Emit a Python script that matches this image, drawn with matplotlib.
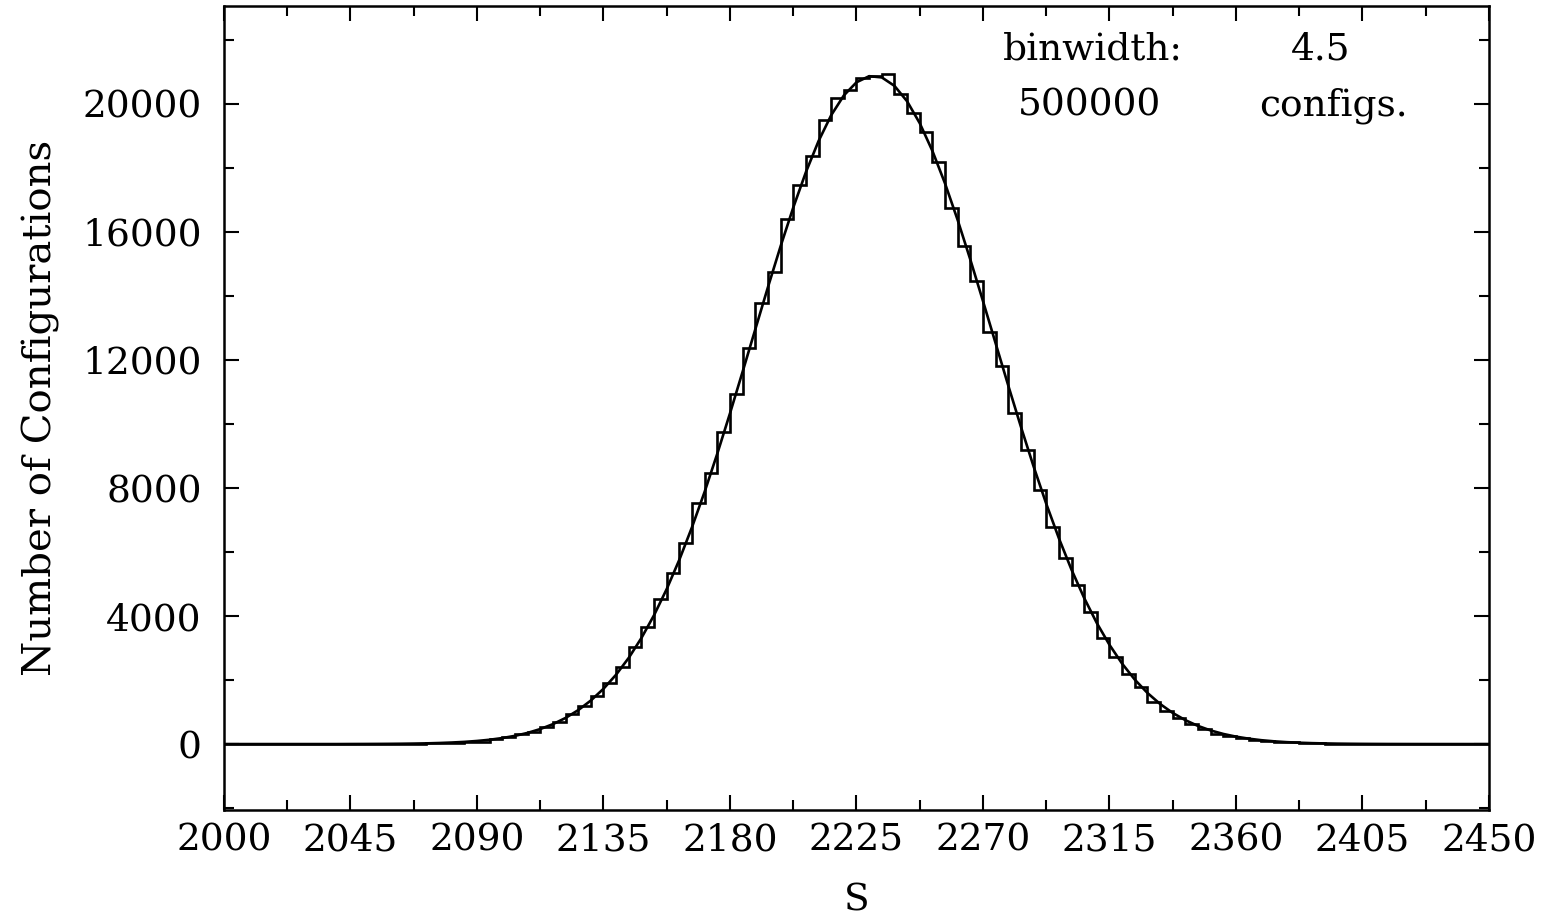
import matplotlib
matplotlib.use("Agg")
import matplotlib.pyplot as plt
import numpy as np

# histogram: 100 bins of width 4.5 starting at S = 2000
BIN_START = 2000
BIN_WIDTH = 4.5
counts = [
    0, 0, 0, 0, 0, 0, 0, 0, 0, 0,
    1, 2, 3, 5, 8, 12, 18, 27, 38, 50,
    80, 145, 230, 310, 385, 540, 700, 940, 1200, 1500,
    1895, 2395, 3020, 3645, 4520, 5333, 6290, 7540, 8480, 9760,
    10940, 12365, 13790, 14750, 16400, 17470, 18375, 19500, 20175, 20440,
    20800, 20885, 20930, 20300, 19730, 19135, 18200, 16740, 15560, 14480,
    12885, 11810, 10330, 9190, 7940, 6790, 5800, 4970, 4135, 3320,
    2730, 2190, 1770, 1320, 1040, 800, 615, 460, 330, 250,
    190, 140, 100, 70, 50, 35, 24, 16, 10, 7,
    4, 3, 2, 1, 1, 0, 0, 0, 0, 0,
]

curve = [
    0, 0, 0, 0, 0, 0, 0, 0, 0, 0,
    1.8, 2.8, 4.4, 6.7, 10, 15, 22, 33, 48, 68,
    97, 135, 188, 257, 349, 469, 622, 816, 1060, 1361,
    1728, 2170, 2696, 3315, 4030, 4846, 5763, 6780, 7888, 9079,
    10334, 11637, 12958, 14276, 15554, 16762, 17869, 18840, 19648, 20266,
    20677, 20867, 20829, 20565, 20083, 19398, 18533, 17514, 16370, 15134,
    13839, 12518, 11198, 9910, 8673, 7508, 6429, 5446, 4562, 3779,
    3099, 2512, 2013, 1597, 1253, 972, 746, 566, 425, 316,
    232, 169, 121, 86, 60, 42, 29, 20, 13, 8.8,
    5.8, 3.8, 2.4, 1.6, 1.0, 0.6, 0.4, 0.2, 0.1, 0, 0,
]

x_ticks = [2000, 2045, 2090, 2135, 2180, 2225, 2270, 2315, 2360, 2405, 2450]
y_ticks = [0, 4000, 8000, 12000, 16000, 20000]

plt.rcParams['font.family'] = ['DejaVu Serif']
FS = 27

fig = plt.figure(figsize=(15.52, 9.24), dpi=100)
ax = fig.add_axes([224 / 1552, 1 - 810 / 924, (1489 - 224) / 1552, (810 - 6) / 924])

edges = BIN_START + BIN_WIDTH * np.arange(len(counts) + 1)

# histogram as a step outline
ax.stairs(counts, edges, color='black', linewidth=1.9, baseline=None)
# smooth fit
ax.plot(edges, curve, color='black', linewidth=1.9)

ax.set_xlim(2000, 2450)
ax.set_ylim(-2060, 23060)

ax.set_xticks(x_ticks)
ax.set_xticks(np.arange(2000, 2451, 22.5), minor=True)
ax.set_yticks(y_ticks)
ax.set_yticks(np.arange(-2000, 23001, 2000), minor=True)

ax.tick_params(which='both', direction='in', top=True, right=True, width=1.5)
ax.tick_params(which='major', length=11)
ax.tick_params(which='minor', length=7)
ax.tick_params(axis='x', labelsize=FS, pad=9)
ax.tick_params(axis='y', labelsize=FS, pad=16)

for sp in ax.spines.values():
    sp.set_linewidth(1.8)

ax.set_xlabel('S', fontsize=FS, labelpad=17)
ax.set_ylabel('Number of Configurations', fontsize=29, labelpad=16)

# annotation in the top-right corner
fig.text(1003 / 1552, 1 - 50 / 924, "binwidth:", fontsize=FS, ha='left', va='center')
fig.text(1350 / 1552, 1 - 50 / 924, "4.5", fontsize=FS, ha='right', va='center')
fig.text(1018 / 1552, 1 - 106 / 924, "500000", fontsize=FS, ha='left', va='center')
fig.text(1408 / 1552, 1 - 106 / 924, "configs.", fontsize=FS, ha='right', va='center')

fig.savefig('out.png', dpi=100)
